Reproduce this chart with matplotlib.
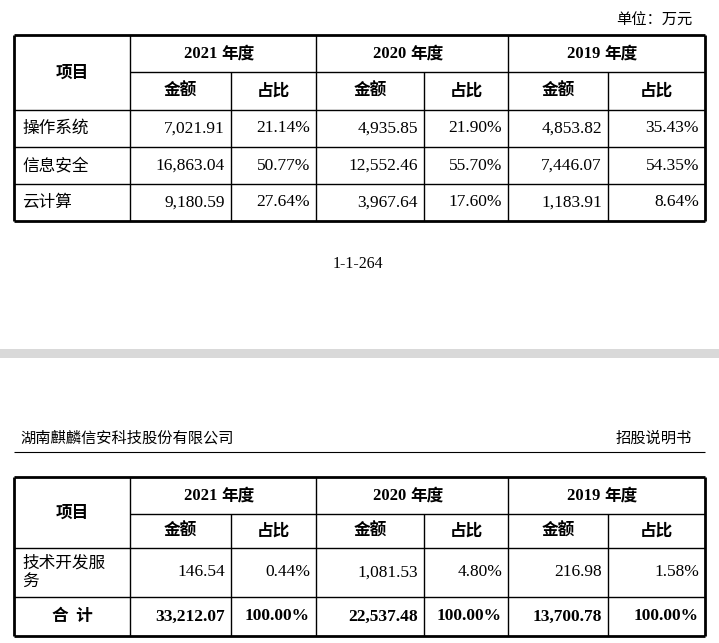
import matplotlib.pyplot as plt

years = ["2021 年度", "2020 年度", "2019 年度"]
sub_heads = ["金额", "占比"]
top_items = ["操作系统", "信息安全", "云计算"]
top_amounts = [["7,021.91", "4,935.85", "4,853.82"],
               ["16,863.04", "12,552.46", "7,446.07"],
               ["9,180.59", "3,967.64", "1,183.91"]]
top_shares = [["21.14%", "21.90%", "35.43%"],
              ["50.77%", "55.70%", "54.35%"],
              ["27.64%", "17.60%", "8.64%"]]
bot_items = ["技术开发服\n务"]
bot_amounts = [["146.54", "1,081.53", "216.98"]]
bot_shares = [["0.44%", "4.80%", "1.58%"]]
total_label = "合  计"
total_amounts = ["33,212.07", "22,537.48", "13,700.78"]
total_shares = ["100.00%", "100.00%", "100.00%"]

CJK = "Noto Sans CJK SC"
SERIF = "Liberation Serif"
cols = [14, 130, 231, 316, 424, 508, 608, 705]

fig = plt.figure(figsize=(7.19, 6.43), dpi=100)
ax = fig.add_axes([0, 0, 1, 1])
ax.set_xlim(0, 719)
ax.set_ylim(643, 0)
ax.axis("off")


def hline(y, x0, x1, lw=1.0):
    ax.plot([x0, x1], [y, y], color="black", lw=lw, solid_capstyle="butt")


def vline(x, y0, y1, lw=1.0):
    ax.plot([x, x], [y0, y1], color="black", lw=lw, solid_capstyle="butt")


def mixed(x, y, s, bold=False, ha="center", size=11):
    # numbers in serif, chinese in CJK font
    font = CJK if any(ord(c) > 0x2e80 for c in s) and not s[0].isdigit() else SERIF
    ax.text(x, y, s, ha=ha, va="center", fontsize=size, family=font,
            fontweight="bold" if bold else "normal")


def year_text(x, y, s):
    num, rest = s.split(" ")
    ax.text(x - 2, y, num + " ", ha="right", va="center", fontsize=12,
            family=SERIF, fontweight="bold")
    ax.text(x - 2, y, rest, ha="left", va="center", fontsize=12,
            family=CJK, fontweight="bold")


def draw_table(rows_y, items, amounts, shares, total=None):
    top, h1, h2 = rows_y[0], rows_y[1], rows_y[2]
    bottom = rows_y[-1]
    hline(top, cols[0], cols[-1], 2)
    hline(bottom, cols[0], cols[-1], 2)
    vline(cols[0], top, bottom, 2)
    vline(cols[-1], top, bottom, 2)
    hline(h1, cols[1], cols[-1])
    for y in rows_y[2:-1]:
        hline(y, cols[0], cols[-1])
    for i, x in enumerate(cols[1:-1], start=1):
        vline(x, top if i % 2 == 1 else h1, bottom)
    # headers
    mixed((cols[0] + cols[1]) / 2, (top + h2) / 2, "项目", bold=True, size=12)
    for k, yr in enumerate(years):
        year_text((cols[1 + 2 * k] + cols[3 + 2 * k]) / 2, (top + h1) / 2, yr)
        for j, sh in enumerate(sub_heads):
            mixed((cols[1 + 2 * k + j] + cols[2 + 2 * k + j]) / 2, (h1 + h2) / 2,
                  sh, bold=True, size=12)
    # body
    for r, item in enumerate(items):
        yc = (rows_y[2 + r] + rows_y[3 + r]) / 2
        ax.text(cols[0] + 8, yc, item, ha="left", va="center", fontsize=12,
                family=CJK, linespacing=1.1)
        for k in range(3):
            mixed(cols[2 + 2 * k] - 6, yc, amounts[r][k], ha="right", size=12.5)
            mixed(cols[3 + 2 * k] - 6, yc, shares[r][k], ha="right", size=12.5)
    if total:
        yc = (rows_y[-2] + rows_y[-1]) / 2
        mixed((cols[0] + cols[1]) / 2, yc, total[0], bold=True, size=12)
        for k in range(3):
            mixed(cols[2 + 2 * k] - 6, yc, total[1][k], bold=True, ha="right", size=12.5)
            mixed(cols[3 + 2 * k] - 6, yc, total[2][k], bold=True, ha="right", size=12.5)


ax.text(692, 20, "单位：万元", ha="right", va="center", fontsize=11, family=CJK)
draw_table([35, 72, 110, 147, 184, 221], top_items, top_amounts, top_shares)
ax.text(358, 264, "1-1-264", ha="center", va="center", fontsize=11.5, family=SERIF)

ax.fill_between([0, 719], 349, 358, color="#d9d9d9", lw=0)

ax.text(20, 438, "湖南麒麟信安科技股份有限公司", ha="left", va="center",
        fontsize=11, family=CJK)
ax.text(692, 438, "招股说明书", ha="right", va="center", fontsize=11, family=CJK)
hline(452, 14, 705, 0.8)

draw_table([477, 514, 548, 597, 636], bot_items, bot_amounts, bot_shares,
           total=(total_label, total_amounts, total_shares))

fig.savefig("out.png", dpi=100, facecolor="white")
